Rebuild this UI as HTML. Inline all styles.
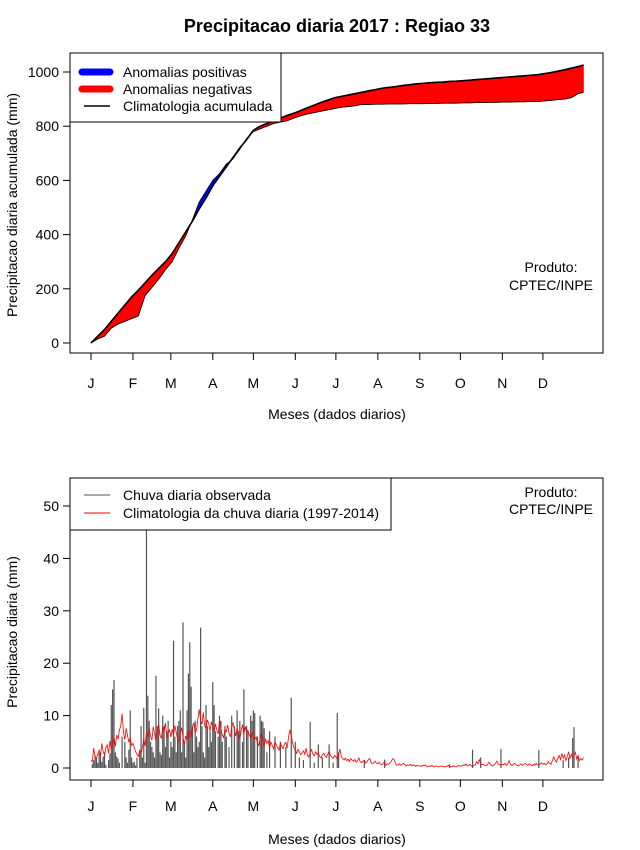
<!DOCTYPE html>
<html><head><meta charset="utf-8">
<style>
body{margin:0;background:#fff;}
svg{display:block;font-family:"Liberation Sans",Arial,sans-serif;}
</style></head>
<body>
<svg id="c" width="640" height="850" viewBox="0 0 640 850" xmlns="http://www.w3.org/2000/svg">
<text x="337" y="32" text-anchor="middle" font-size="18" font-weight="bold">Precipitacao diaria 2017 : Regiao 33</text>
<g id="topChart"></g>
<g id="botChart"></g>
</svg>
<script>
// ---- Top chart data (cumulative, sampled every 5 days) ----
const cumDays = [1,6,11,16,21,26,31,36,41,46,51,56,61,66,71,76,81,86,91,96,101,106,111,116,121,126,131,136,141,146,151,156,161,166,171,176,181,186,191,196,201,206,211,216,221,226,231,236,241,246,251,256,261,266,271,276,281,286,291,296,301,306,311,316,321,326,331,336,341,346,351,356,361,365];
const climCum = [0,25,50,80,110,140,170,195,222,250,275,300,330,370,410,450,495,535,580,615,650,685,720,750,785,800,810,820,830,840,848,858,868,878,888,896,905,910,915,920,925,930,935,940,943,946,950,953,956,958,960,962,963,965,966,968,970,972,974,976,978,980,982,984,986,988,990,994,998,1003,1008,1014,1020,1026];
const obsCum = [0,15,25,55,70,80,90,100,175,205,235,270,300,350,395,455,520,560,600,625,660,680,715,755,780,790,800,810,815,820,830,838,845,850,855,860,865,870,872,875,880,880,881,881,882,882,882,883,883,883,884,884,885,885,885,886,886,887,887,888,888,889,889,890,890,891,891,893,895,898,900,905,920,925];
const topTicks = [0,200,400,600,800,1000];
const monthLabels = ["J","F","M","A","M","J","J","A","S","O","N","D"];
const monthStartDays = [1,32,60,91,121,152,182,213,244,274,305,335];
// ---- Bottom chart data ----
const obsDays = [
2,3,4,5,6,7,8,9,10,11,12,14,15,16,17,18,19,20,21,22,24,26,27,28,29,30,31,
32,33,34,35,37,38,39,40,41,42,43,44,45,46,47,48,49,50,51,52,53,54,55,56,57,58,59,
60,61,62,63,64,65,66,67,68,69,70,71,72,73,74,75,76,77,78,79,80,81,82,83,84,85,86,87,88,89,90,
91,92,93,95,96,97,98,100,101,103,105,107,109,110,111,113,114,116,117,119,120,
121,122,124,126,127,128,129,131,133,137,141,145,149,
152,155,158,163,166,169,172,177,180,183,184,203,218,266,283,289,304,332,350,354,357,358,361];
const obsVals = [
0.8,1.5,2.5,2,1,2.8,3,1.2,2.2,3,0.6,1.5,2.8,12,15,16.8,3,2.2,1.8,1,6,5,2,1,3.5,11,2,
1,1.2,0.5,2,3,8,2,11.5,1,46,13.8,9,5,4,3,2,17.6,8,11.4,3,2.5,10,8,4,7,9,2,
5,4,24.3,6,3,8,9,11,3,27.8,5,2,11,18,24,15.5,8,3,9,6,4,5,26.8,8,3,2,12,8,4,7,5,
16.4,12,7,6,10,9,5,8,6,4,10,8,11,7,9,5,15,8,7,10,9,
11,10.5,6,10,9,8.8,7.6,3,7,6,5,4,13.4,
5,2,1.5,8.8,1,4.5,2,4.5,1,10.5,3,1.5,1.6,0.7,3.5,2,3.6,3.4,1.5,2,5.7,7.8,2.5];
const climDaily = [
1.5,1.2,3.8,2.1,1.8,2.6,3.4,2.2,4.7,3.1,2.5,3.9,4.4,2.8,5.2,3.6,4.8,5.9,4.1,6.3,5.5,7.2,8.1,10.4,6.8,5.4,7.6,6.2,4.9,5.8,4.3,
4.7,3.9,3.1,2.6,2.2,3.4,2.8,3.9,5.6,4.2,6.8,5.9,7.6,6.1,5.3,7.9,6.6,5.2,7.1,8.4,6.3,5.6,7.8,6.9,8.6,5.8,6.7,7.3,
5.9,7.4,6.2,8.1,6.8,5.5,4.8,6.6,7.7,5.9,4.5,6.1,5.2,7.3,6.4,5.8,7.9,8.6,6.7,7.2,9.4,11.2,9.1,8.3,10.6,8.1,7.4,9.2,8.5,7.1,8.8,
7.9,6.8,8.4,7.2,6.5,9.1,7.6,6.3,5.8,7.4,6.9,8.2,6.7,5.9,7.8,8.6,7.3,6.1,7.7,6.6,5.5,7.1,8.3,6.4,7.9,6.8,7.2,6.3,5.7,6.9,
6.2,5.4,5.9,4.8,4.3,5.7,6.6,4.9,4.2,5.6,4.7,5.2,3.8,4.9,4.3,3.6,5.1,4.4,3.9,3.4,4.8,4.1,3.7,4.6,4.9,3.8,5.9,7.3,6.1,4.8,3.9,
3.4,2.8,3.6,3.1,2.5,2.9,3.3,2.6,3.8,2.4,2.1,2.9,3.5,2.7,2.3,3.1,2.6,2.9,2.2,1.9,2.5,2.8,2.3,2.0,2.6,3.2,2.4,2.1,1.8,2.4,
2.1,1.7,2.6,3.6,2.2,1.8,1.5,1.9,1.4,1.7,1.2,1.8,1.5,1.3,1.6,1.1,1.4,1.9,1.2,1.0,1.3,1.5,0.9,1.2,1.6,1.8,1.1,0.8,1.0,1.3,0.9,
0.8,1.1,0.7,0.6,0.9,1.2,0.5,0.8,0.7,1.0,1.3,1.8,1.6,0.9,0.5,0.6,0.8,0.5,0.7,0.9,0.6,0.4,0.6,0.5,0.7,0.4,0.6,0.5,0.3,0.5,0.4,
0.4,0.3,0.5,0.4,0.6,0.3,0.2,0.4,0.3,0.5,0.3,0.2,0.4,0.3,0.2,0.3,0.4,0.2,0.3,0.2,0.3,0.5,0.3,0.2,0.3,0.4,0.3,0.2,0.4,0.5,
0.3,0.4,0.6,0.5,0.8,0.4,0.5,0.7,0.4,0.3,0.5,0.6,1.2,0.8,1.6,0.9,0.6,0.7,0.5,0.4,0.6,1.1,0.8,0.5,0.4,0.6,0.9,1.3,0.8,0.6,0.5,
0.7,0.6,0.9,0.5,0.8,1.4,0.7,0.5,0.6,0.9,0.7,0.5,0.4,0.6,0.8,0.5,0.7,0.9,0.6,0.5,0.8,0.6,0.4,0.7,0.5,0.9,0.6,0.5,0.8,1.0,
0.7,0.9,0.6,0.8,1.2,0.9,0.7,1.4,2.1,1.5,1.1,1.8,2.4,1.6,2.8,1.9,2.5,1.4,2.2,3.1,1.8,2.6,1.9,2.4,3.0,1.7,2.3,1.4,1.8,1.5,2.0];
const botTicks = [0,10,20,30,40,50];

const NS="http://www.w3.org/2000/svg";
function mk(parent,tag,attrs,text){const e=document.createElementNS(NS,tag);for(const k in attrs)e.setAttribute(k,attrs[k]);if(text!==undefined)e.textContent=text;parent.appendChild(e);return e;}
const xDay = d => 91 + (d-1)*1.353;
const yTop = v => 343 - v*0.271;
const yBot = v => 768 - v*5.24;

function axes(g, box, ticks, yf, ytitle, ytitleY, xlabY, xtitleY){
  const r=mk(g,'rect',{x:box[0],y:box[1],width:box[2]-box[0],height:box[3]-box[1],fill:'none',stroke:'#000','stroke-width':1});
  
  
  ticks.forEach(t=>{
    const y=yf(t);
    const l=mk(g,'line',{x1:box[0]-7,x2:box[0],y1:y,y2:y,stroke:'#000'});
    
    
    const tx=mk(g,'text',{x:box[0]-11,y:y+5,'text-anchor':'end','font-size':14},t);
    
    
  });
  monthStartDays.forEach((d,i)=>{
    const x=xDay(d);
    const l=mk(g,'line',{x1:x,x2:x,y1:box[3],y2:box[3]+7,stroke:'#000'});
    
    
    const tx=mk(g,'text',{x:x,y:xlabY,'text-anchor':'middle','font-size':14},monthLabels[i]);
    
    
  });
  const xt=mk(g,'text',{x:337,y:xtitleY,'text-anchor':'middle','font-size':14},'Meses (dados diarios)');
  
  
  const yt=mk(g,'text',{x:0,y:0,'text-anchor':'middle','font-size':14,transform:`translate(17,${ytitleY}) rotate(-90)`},ytitle);
  
  
}

// ---- Top chart ----
const gTop=document.getElementById('topChart');
for(let i=0;i<cumDays.length-1;i++){
  const x1=xDay(cumDays[i]),x2=xDay(cumDays[i+1]);
  const dAvg=(obsCum[i]-climCum[i])+(obsCum[i+1]-climCum[i+1]);
  const col=dAvg>0?'#0000ff':'#ff0000';
  const p=mk(gTop,'polygon',{points:`${x1},${yTop(climCum[i])} ${x2},${yTop(climCum[i+1])} ${x2},${yTop(obsCum[i+1])} ${x1},${yTop(obsCum[i])}`,fill:col,stroke:col,'stroke-width':0.6});
  
  
}
const obsLine=mk(gTop,'polyline',{points:cumDays.map((d,i)=>`${xDay(d)},${yTop(obsCum[i])}`).join(' '),fill:'none',stroke:'#000','stroke-width':0.8});


const climLine=mk(gTop,'polyline',{points:cumDays.map((d,i)=>`${xDay(d)},${yTop(climCum[i])}`).join(' '),fill:'none',stroke:'#000','stroke-width':1.6});


axes(gTop,[70,53,603,353],topTicks,yTop,'Precipitacao diaria acumulada (mm)',205,388,419);
{
  const lg=mk(gTop,'g',{});
  
  
  mk(lg,'rect',{x:70,y:53,width:211,height:69,fill:'#fff',stroke:'#000'});
  mk(lg,'line',{x1:82,x2:110,y1:72,y2:72,stroke:'#0000ff','stroke-width':7,'stroke-linecap':'round'});
  mk(lg,'text',{x:123,y:77,'font-size':14},'Anomalias positivas');
  mk(lg,'line',{x1:82,x2:110,y1:89,y2:89,stroke:'#ff0000','stroke-width':7,'stroke-linecap':'round'});
  mk(lg,'text',{x:123,y:94,'font-size':14},'Anomalias negativas');
  mk(lg,'line',{x1:84,x2:110,y1:106,y2:106,stroke:'#000','stroke-width':1.5});
  mk(lg,'text',{x:123,y:111,'font-size':14},'Climatologia acumulada');
  const p1=mk(gTop,'text',{x:551,y:272,'text-anchor':'middle','font-size':14},'Produto:');
  
  
  const p2=mk(gTop,'text',{x:551,y:290,'text-anchor':'middle','font-size':14},'CPTEC/INPE');
  
  
}

// ---- Bottom chart ----
const gBot=document.getElementById('botChart');
obsDays.forEach((d,i)=>{
  const x=xDay(d);
  const b=mk(gBot,'line',{x1:x,x2:x,y1:yBot(0),y2:yBot(obsVals[i]),stroke:'#555','stroke-width':1.2});
  
  
});
const cl=mk(gBot,'polyline',{points:climDaily.map((v,i)=>`${xDay(i+1)},${yBot(v)}`).join(' '),fill:'none',stroke:'#ff0000','stroke-width':0.8});


axes(gBot,[70,478,603,780],botTicks,yBot,'Precipitacao diaria (mm)',632,811,844);
{
  const lg=mk(gBot,'g',{});
  
  
  mk(lg,'rect',{x:70,y:478,width:321,height:52,fill:'#fff',stroke:'#000'});
  mk(lg,'line',{x1:84,x2:110,y1:495,y2:495,stroke:'#555','stroke-width':1});
  mk(lg,'text',{x:123,y:500,'font-size':14},'Chuva diaria observada');
  mk(lg,'line',{x1:84,x2:110,y1:513,y2:513,stroke:'#ff0000','stroke-width':1});
  mk(lg,'text',{x:123,y:518,'font-size':14},'Climatologia da chuva diaria (1997-2014)');
  const p1=mk(gBot,'text',{x:551,y:497,'text-anchor':'middle','font-size':14},'Produto:');
  
  
  const p2=mk(gBot,'text',{x:551,y:514,'text-anchor':'middle','font-size':14},'CPTEC/INPE');
  
  
}
</script>
</body></html>
